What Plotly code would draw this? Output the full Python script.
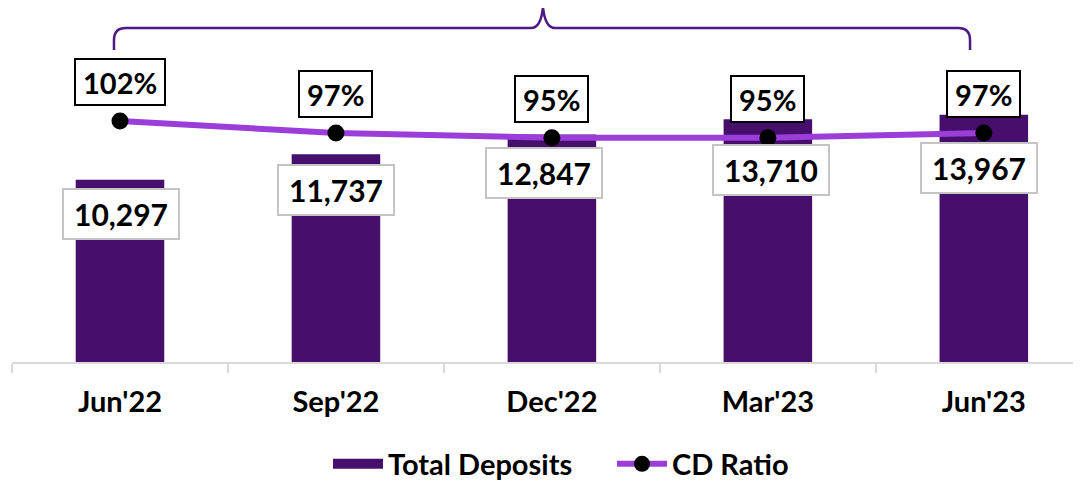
import plotly.graph_objects as go

# ---- data ----
quarters = ["Jun'22", "Sep'22", "Dec'22", "Mar'23", "Jun'23"]
total_deposits = [10297, 11737, 12847, 13710, 13967]
cd_ratio = [102, 97, 95, 95, 97]
deposit_labels = ["10,297", "11,737", "12,847", "13,710", "13,967"]
ratio_labels = ["102%", "97%", "95%", "95%", "97%"]

# ---- label placement (pixel offsets from the data point) ----
dep_xshift = [1, 0, -8, 3, -5]
dep_yshift = [-34, -36, -38, -51, -53]
ratio_yshift = 39

# page body has an 8px margin; compensate so the plot sits where the reference has it
OFF = 8
SCR_L, SCR_T, SCR_B, SCR_R = 12, 20, 362, 1081
W, H = 1081 - OFF, 482 - OFF
ML, MT = SCR_L - OFF, SCR_T - OFF
PW, PH = SCR_R - SCR_L, SCR_B - SCR_T
MR = W - ML - PW
MB = H - MT - PH

FONT = "Lato"
BAR_COLOR = "#450f6b"
LINE_COLOR = "#9b3ed9"
BRACE_COLOR = "#4e1a80"

fig = go.Figure()
fig.add_trace(go.Bar(
    x=quarters, y=total_deposits, name="Total Deposits",
    marker=dict(color=BAR_COLOR, line=dict(width=0)),
    width=0.41, yaxis="y", hoverinfo="skip", showlegend=False,
))
# legend-only entry giving the deposits series a wide rectangular swatch
fig.add_trace(go.Scatter(
    x=[None], y=[None], name="Total Deposits", mode="lines",
    line=dict(color=BAR_COLOR, width=18), hoverinfo="skip", legendrank=1,
))
fig.add_trace(go.Scatter(
    x=quarters, y=cd_ratio, name="CD Ratio", mode="lines+markers",
    line=dict(color=LINE_COLOR, width=6),
    marker=dict(color="black", size=17),
    yaxis="y2", hoverinfo="skip", legendrank=2,
))

annotations = []
for i, q in enumerate(quarters):
    annotations.append(dict(
        x=q, y=total_deposits[i], xref="x", yref="y",
        text=f"<b>{deposit_labels[i]}</b>", showarrow=False,
        xshift=dep_xshift[i], yshift=dep_yshift[i],
        font=dict(family=FONT, size=30, color="black"),
        bgcolor="white", bordercolor="#c4c4c4", borderwidth=2,
        borderpad=6, width=102, height=36,
    ))
    annotations.append(dict(
        x=q, y=cd_ratio[i], xref="x", yref="y2",
        text=f"<b>{ratio_labels[i]}</b>", showarrow=False,
        yshift=ratio_yshift,
        font=dict(family=FONT, size=29, color="black"),
        bgcolor="white", bordercolor="black", borderwidth=2,
        borderpad=7, height=30,
    ))


def pt(xs, ys):
    """screen pixel -> paper fraction"""
    a = (xs - SCR_L) / PW
    b = (SCR_B - ys) / PH
    return f"{a:.4f},{b:.4f}"


brace = (
    f"M{pt(114, 50)} L{pt(114, 40)} Q{pt(114, 28)} {pt(126, 28)} "
    f"L{pt(531, 28)} Q{pt(541, 28)} {pt(543, 7)} "
    f"Q{pt(545, 28)} {pt(555, 28)} "
    f"L{pt(958, 28)} Q{pt(970, 28)} {pt(970, 40)} L{pt(970, 50)}"
)

fig.update_layout(
    width=W, height=H,
    margin=dict(l=ML, r=MR, t=MT, b=MB, autoexpand=False),
    paper_bgcolor="white", plot_bgcolor="white",
    showlegend=True,
    legend=dict(orientation="h", x=(328 - SCR_L) / PW, xanchor="left",
                y=(SCR_B - 464) / PH, yanchor="middle",
                font=dict(family=FONT, size=29, color="black", weight="bold"),
                itemwidth=50, entrywidth=219, traceorder="normal",
                bgcolor="rgba(0,0,0,0)"),
    xaxis=dict(type="category", range=[-0.5, 4.45], showgrid=False,
               showline=True, linecolor="#d9d9d9", linewidth=2,
               ticks="outside", tickson="boundaries", ticklen=9, tickwidth=2,
               tickcolor="#d9d9d9", ticklabelstandoff=13,
               tickfont=dict(family=FONT, size=29, color="black", weight="bold")),
    yaxis=dict(range=[0, PH * 56.5], visible=False, showgrid=False, zeroline=False),
    yaxis2=dict(range=[102 - 241 / 2.4, 102 - 241 / 2.4 + PH / 2.4], overlaying="y",
                visible=False, showgrid=False, zeroline=False),
    annotations=annotations,
    shapes=[dict(type="path", xref="paper", yref="paper", path=brace,
                 line=dict(color=BRACE_COLOR, width=2.5), layer="above")],
)

fig.write_html("out.html")
